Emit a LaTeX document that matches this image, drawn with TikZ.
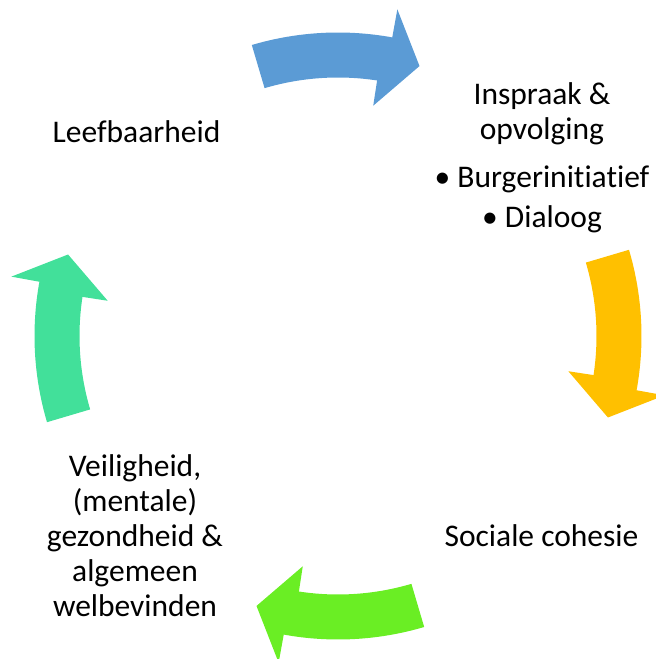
\documentclass[tikz,border=0pt]{standalone}
\usepackage{fontspec}
\setmainfont[Ligatures={NoCommon}]{Carlito}
\usetikzlibrary{calc}
\definecolor{cblue}{RGB}{91,155,213}
\definecolor{cyellow}{RGB}{255,192,0}
\definecolor{cgreen}{RGB}{106,238,36}
\definecolor{cteal}{RGB}{66,224,154}
\newcommand\cycarrow[3]{%
  \fill[#2] ($(C)+(#1+16.5:303.5pt)$) arc[start angle=#1+16.5, end angle=#1-10.3, radius=303.5pt]
    -- ($(C)+(#1-10.3:332pt)$) coordinate (#3-a)
    -- ($(C)+(#1-16.8:282pt)$) coordinate (#3-tip)
    -- ($(C)+(#1-8.7:233pt)$) coordinate (#3-b)
    -- ($(C)+(#1-8.7:258.5pt)$)
    arc[start angle=#1-8.7, end angle=#1+16.5, radius=258.5pt] -- cycle;}
\tikzset{lbl/.style={inner sep=0pt, align=center, font=\fontsize{31.5}{35}\selectfont, text=black}}
\begin{document}
\begin{tikzpicture}[x=1pt,y=1pt]
\useasboundingbox (0,0) rectangle (656,659);
\coordinate (C) at (338,323);
\cycarrow{90}{cblue}{a1}
\cycarrow{0}{cyellow}{a2}
\cycarrow{-90}{cgreen}{a3}
\cycarrow{180}{cteal}{a4}
\node[lbl, anchor=base] (leef) at (136.5,516) {Leefbaarheid};
\node[lbl, anchor=base] (insp) at (542,431) {Inspraak \&\\opvolging\\[13pt]•\ Burgerinitiatief\\[5pt]•\ Dialoog};
\node[lbl, anchor=base] (soc) at (541.5,112.3) {Sociale cohesie};
\node[lbl, anchor=base] (veil) at (135,42.3) {Veiligheid,\\(mentale)\\gezondheid \&\\algemeen\\welbevinden};
\end{tikzpicture}
\end{document}
